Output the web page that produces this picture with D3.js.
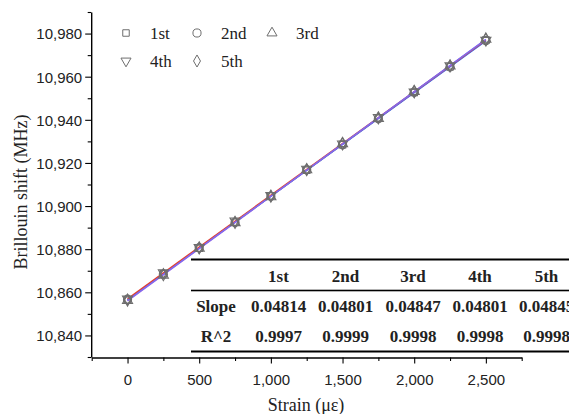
<!DOCTYPE html>
<html>
<head>
<meta charset="utf-8">
<script src="https://cdn.jsdelivr.net/npm/d3@7"></script>
<style>
  html, body { margin: 0; padding: 0; background: #fff; }
  svg { display: block; }
</style>
</head>
<body>
<svg id="chart" width="569" height="414"></svg>
<script>
// Strain steps (με)
const strain = [0, 250, 500, 750, 1000, 1250, 1500, 1750, 2000, 2250, 2500];

// Measured Brillouin shift (MHz) for each run
const run1 = [10856.3, 10868.6, 10880.4, 10892.5, 10904.8, 10916.6, 10928.5, 10940.9, 10952.7, 10964.6, 10977.0];
const run2 = [10856.8, 10868.4, 10880.7, 10892.4, 10904.5, 10916.8, 10928.4, 10940.5, 10952.8, 10964.5, 10976.7];
const run3 = [10856.2, 10867.9, 10880.4, 10892.3, 10904.3, 10916.8, 10928.9, 10940.6, 10953.1, 10964.9, 10977.3];
const run4 = [10856.9, 10869.1, 10880.8, 10893.1, 10904.9, 10917.1, 10928.8, 10941.1, 10952.9, 10965.1, 10976.9];
const run5 = [10856.4, 10868.2, 10880.6, 10892.4, 10904.6, 10916.9, 10929.1, 10940.9, 10953.2, 10965.0, 10977.5];

// Linear fit results per run
const runNames = ["1st", "2nd", "3rd", "4th", "5th"];
const slopes = ["0.04814", "0.04801", "0.04847", "0.04801", "0.04845"];
const intercepts = [10856.5, 10856.6, 10856.0, 10857.0, 10856.2];
const r2 = ["0.9997", "0.9999", "0.9998", "0.9998", "0.9998"];

// Axis ticks
const xTicks = [0, 500, 1000, 1500, 2000, 2500];
const xMinor = [-250, 250, 750, 1250, 1750, 2250, 2750];
const yTicks = [10840, 10860, 10880, 10900, 10920, 10940, 10960, 10980];
const yMinor = [10830, 10850, 10870, 10890, 10910, 10930, 10950, 10970, 10990];

const runs = [run1, run2, run3, run4, run5];
const markerTypes = [d3.symbolSquare, d3.symbolCircle, d3.symbolTriangle, "down", d3.symbolDiamond];
const lineColors = ["#3aa36b", "#4463e6", "#9b62e3", "#e8402c", "#7f6cf0"];
const markerColor = "#6e6e6e";

const svg = d3.select("#chart");

const x = d3.scaleLinear().domain([-250, 2750]).range([91.7, 521.7]);
const y = d3.scaleLinear().domain([10830, 10990]).range([357, 12]);

const fmt = d3.format(",");

// marker path generator
function markerPath(type, size) {
  if (type === "down") return d3.symbol().type(d3.symbolTriangle).size(size)();
  return d3.symbol().type(type).size(size)();
}
function markerSize(type) {
  if (type === d3.symbolSquare) return 42;
  if (type === d3.symbolCircle) return 52;
  if (type === d3.symbolDiamond) return 42;
  return 44;
}
function markerTransform(type, cx, cy) {
  return type === "down" ? `translate(${cx},${cy}) rotate(180)` : `translate(${cx},${cy})`;
}

// Axes
const xAxis = svg.append("g").attr("transform", "translate(0,357.5)")
  .call(d3.axisBottom(x).tickValues(xTicks).tickFormat(fmt).tickSize(6).tickSizeOuter(0));
svg.append("g").attr("transform", "translate(0,357.5)")
  .call(d3.axisBottom(x).tickValues(xMinor).tickFormat("").tickSize(3.5).tickSizeOuter(0))
  .select(".domain").remove();

const yAxis = svg.append("g").attr("transform", "translate(91.2,0)")
  .call(d3.axisLeft(y).tickValues(yTicks).tickFormat(fmt).tickSize(6).tickSizeOuter(0));
svg.append("g").attr("transform", "translate(91.2,0)")
  .call(d3.axisLeft(y).tickValues(yMinor).tickFormat("").tickSize(3.5).tickSizeOuter(0))
  .select(".domain").remove();

svg.selectAll(".domain").attr("stroke", "#000").attr("stroke-width", 1.4);
svg.selectAll(".tick line").attr("stroke", "#000").attr("stroke-width", 1.1);
svg.selectAll(".tick text")
  .attr("font-family", "'Liberation Sans', Arial, sans-serif")
  .attr("font-size", 15).attr("fill", "#222");
xAxis.selectAll(".tick text").attr("dy", "1.25em");
yAxis.selectAll(".tick text").attr("x", -9).attr("dy", "0.36em");

// Axis titles
svg.append("text")
  .attr("x", 306).attr("y", 411)
  .attr("text-anchor", "middle")
  .attr("font-family", "'Liberation Serif', 'Times New Roman', serif")
  .attr("font-size", 18).attr("fill", "#222")
  .text("Strain (με)");
svg.append("text")
  .attr("transform", "translate(27,192) rotate(-90)")
  .attr("text-anchor", "middle")
  .attr("font-family", "'Liberation Serif', 'Times New Roman', serif")
  .attr("font-size", 18).attr("fill", "#222")
  .text("Brillouin shift (MHz)");

// Fitted lines
const fitG = svg.append("g");
runs.forEach((r, i) => {
  const s = +slopes[i], b = intercepts[i];
  const x0 = strain[0], x1 = strain[strain.length - 1];
  fitG.append("line")
    .attr("x1", x(x0)).attr("y1", y(b + s * x0))
    .attr("x2", x(x1)).attr("y2", y(b + s * x1))
    .attr("stroke", lineColors[i]).attr("stroke-width", 1.4);
});

// Markers
const mG = svg.append("g");
runs.forEach((r, i) => {
  const t = markerTypes[i];
  mG.selectAll(null).data(r).enter().append("path")
    .attr("d", markerPath(t, markerSize(t)))
    .attr("transform", (d, j) => markerTransform(t, x(strain[j]), y(d)))
    .attr("fill", "none").attr("stroke", markerColor).attr("stroke-width", 1.1);
});

// Legend
const legendPos = [[126, 33], [197, 33], [272, 33], [126, 61], [197, 61]];
const lg = svg.append("g");
runNames.forEach((n, i) => {
  const [lx, ly] = legendPos[i];
  const t = markerTypes[i];
  lg.append("path")
    .attr("d", markerPath(t, markerSize(t)))
    .attr("transform", markerTransform(t, lx, ly))
    .attr("fill", "none").attr("stroke", markerColor).attr("stroke-width", 1);
  lg.append("text")
    .attr("x", lx + 24).attr("y", ly + 6)
    .attr("font-family", "'Liberation Serif', 'Times New Roman', serif")
    .attr("font-size", 17).attr("fill", "#222")
    .text(n);
});

// Fit summary table
const colEdges = [191, 245, 312, 379, 447, 513, 580];
const tableTop = 259.5, headSep = 290.5, tableBottom = 351.5;
const tg = svg.append("g")
  .attr("font-family", "'Liberation Serif', 'Times New Roman', serif")
  .attr("font-weight", "bold").attr("font-size", 17).attr("fill", "#222");

tg.append("rect").attr("x", 191).attr("y", tableTop - 1).attr("width", 380).attr("height", 2)
  .attr("fill", "#000");
tg.append("rect").attr("x", 191).attr("y", headSep - 0.8).attr("width", 380).attr("height", 1.6)
  .attr("fill", "#000");
tg.append("rect").attr("x", 191).attr("y", tableBottom - 1).attr("width", 380).attr("height", 2)
  .attr("fill", "#000");

const colCenter = i => (colEdges[i] + colEdges[i + 1]) / 2;
const rows = [
  { y: 276, label: "", cells: runNames },
  { y: 306.5, label: "Slope", cells: slopes },
  { y: 336.5, label: "R^2", cells: r2 }
];
rows.forEach(row => {
  if (row.label) {
    tg.append("text").attr("x", colCenter(0) - 2).attr("y", row.y).attr("dy", "0.35em")
      .attr("text-anchor", "middle").text(row.label);
  }
  row.cells.forEach((c, i) => {
    tg.append("text").attr("x", colCenter(i + 1)).attr("y", row.y).attr("dy", "0.35em")
      .attr("text-anchor", "middle").text(c);
  });
});
</script>
</body>
</html>
